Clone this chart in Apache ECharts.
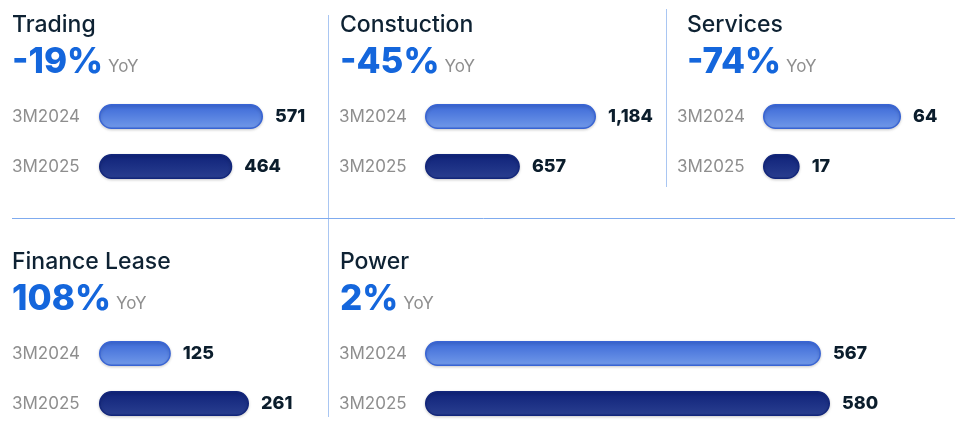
<!DOCTYPE html>
<html>
<head>
<meta charset="utf-8">
<script src="https://cdn.jsdelivr.net/npm/echarts@6/dist/echarts.min.js"></script>
<style>html,body{margin:0;padding:0;background:#fff}#c{width:955px;height:446px}</style>
</head>
<body>
<div id="c"></div>
<script>
// ---- data ----
const periods = ['3M2024', '3M2025'];
const segments = ['Trading', 'Constuction', 'Services', 'Finance Lease', 'Power'];
const yoyChange = ['-19%', '-45%', '-74%', '108%', '2%'];
const trading = [571, 464];
const construction = [1184, 657];
const services = [64, 17];
const financeLease = [125, 261];
const power = [567, 580];
const segmentValues = [trading, construction, services, financeLease, power];

// ---- layout (positions only) ----
const layout = [
  { tx: 12,  lx: 12,  barLeft: 99,  barW: 164, dy: 0 },
  { tx: 340, lx: 339, barLeft: 425, barW: 171, dy: 0 },
  { tx: 687, lx: 677, barLeft: 763, barW: 138, dy: 0 },
  { tx: 12,  lx: 12,  barLeft: 99,  barW: 150, dy: 237 },
  { tx: 340, lx: 339, barLeft: 425, barW: 405, dy: 237 }
];
const FONT = 'Inter, "Noto Sans", sans-serif';

const titles = [], grids = [], xAxes = [], yAxes = [], series = [];
const grad = (a, b) => new echarts.graphic.LinearGradient(0, 0, 0, 1, [{offset: 0, color: a}, {offset: 1, color: b}]);
const barStyles = [
  { color: grad('#3b68d7', '#729ae9'), borderColor: '#3864d4' },
  { color: grad('#0f2279', '#2a3f90'), borderColor: '#12267b' }
];

segments.forEach((name, i) => {
  const L = layout[i];
  titles.push({
    text: name, left: L.tx, top: 14 + L.dy, padding: 0,
    textStyle: { fontFamily: FONT, fontSize: 23, fontWeight: 500, color: '#0e2233' }
  });
  titles.push({
    text: '{p|' + yoyChange[i] + '} {y|YoY}', left: L.tx, top: 45 + L.dy, padding: 0,
    textStyle: { rich: {
      p: { fontFamily: FONT, fontSize: 35, fontWeight: 800, color: '#1466dc' },
      y: { fontFamily: FONT, fontSize: 17, fontWeight: 'normal', color: '#8e8e8e', padding: [8, 0, 0, 0] }
    } }
  });
  grids.push({ left: L.barLeft, width: L.barW, top: 91.5 + L.dy, height: 100, containLabel: false });
  xAxes.push({ gridIndex: i, type: 'value', min: 0, max: 'dataMax', show: false });
  yAxes.push({
    gridIndex: i, type: 'category', data: periods, inverse: true,
    axisLine: { show: false }, axisTick: { show: false }, splitLine: { show: false },
    axisLabel: { align: 'left', margin: L.barLeft - L.lx, color: '#8e8e8e', fontSize: 17, fontFamily: FONT }
  });
  series.push({
    type: 'bar', xAxisIndex: i, yAxisIndex: i, barWidth: 25,
    data: segmentValues[i].map((v, k) => ({
      value: v,
      itemStyle: Object.assign({ borderWidth: 1.5, borderRadius: 13, shadowBlur: 3, shadowColor: 'rgba(0,0,0,0.18)', shadowOffsetY: 1 }, barStyles[k])
    })),
    label: {
      show: true, position: 'right', distance: 12,
      fontFamily: FONT, fontSize: 18, fontWeight: 800, color: '#0b1d2c',
      formatter: p => p.value.toLocaleString('en-US')
    },
    silent: true
  });
});

const chart = echarts.init(document.getElementById('c'));
chart.setOption({
  animation: false,
  title: titles,
  grid: grids, xAxis: xAxes, yAxis: yAxes, series: series,
  graphic: [
    { type: 'line', shape: { x1: 328.5, y1: 15, x2: 328.5, y2: 417 }, style: { stroke: '#a9c6f2', lineWidth: 1 } },
    { type: 'line', shape: { x1: 666.5, y1: 9, x2: 666.5, y2: 187 }, style: { stroke: '#a9c6f2', lineWidth: 1 } },
    { type: 'line', shape: { x1: 12, y1: 218.5, x2: 955, y2: 218.5 }, style: { stroke: '#7fabef', lineWidth: 1 } }
  ]
});
</script>
</body>
</html>
